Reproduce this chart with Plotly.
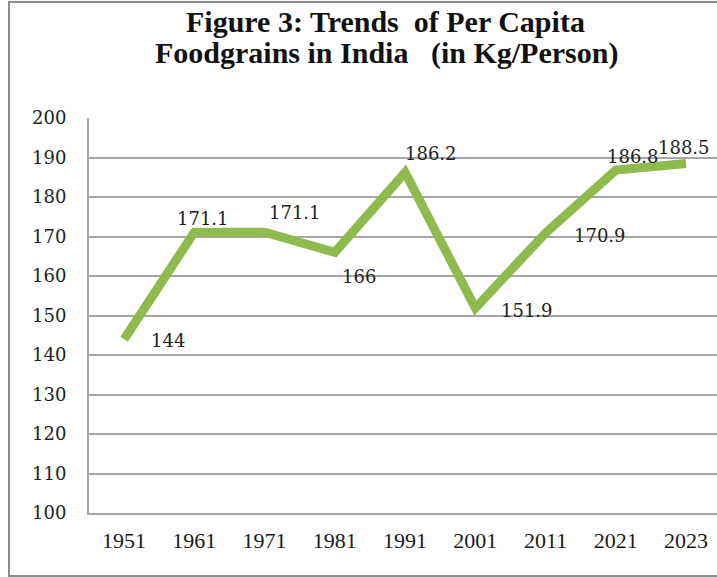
import plotly.graph_objects as go

years = ["1951", "1961", "1971", "1981", "1991", "2001", "2011", "2021", "2023"]
per_capita = [144, 171.1, 171.1, 166, 186.2, 151.9, 170.9, 186.8, 188.5]
label_text = ["144", "171.1", "171.1", "166", "186.2", "151.9", "170.9", "186.8", "188.5"]
y_ticks = [100, 110, 120, 130, 140, 150, 160, 170, 180, 190, 200]

# label placement offsets (px) – styling only
label_dx = [44, 9, 30, 24, 26, 52, 54, 17, -2]
label_dy = [-1, 14, 20, -24, 19, -2, -3, 14, 16]

xpos = list(range(len(years)))

fig = go.Figure()
fig.add_trace(go.Scatter(
    x=xpos, y=per_capita, mode="lines",
    line=dict(color="#8fba4e", width=9),
    showlegend=False, hovertext=years, hoverinfo="text+y",
))

for x, y, t, dx, dy in zip(xpos, per_capita, label_text, label_dx, label_dy):
    fig.add_annotation(x=x, y=y, xref="x", yref="y", text=t, showarrow=False,
                       xshift=dx, yshift=dy,
                       font=dict(family="DejaVu Serif", size=18, color="#222222"))

title_font = dict(family="Liberation Serif", size=30, color="#111111")
fig.add_annotation(xref="paper", yref="paper", x=(385 - 89) / 628, y=(513 - 21) / 395,
                   text="<b>Figure 3: Trends\u00a0 of Per Capita</b>", showarrow=False,
                   xanchor="center", yanchor="middle", font=title_font)
fig.add_annotation(xref="paper", yref="paper", x=(386 - 89) / 628, y=(513 - 53) / 395,
                   text="<b>Foodgrains in India\u00a0\u00a0 (in Kg/Person)</b>", showarrow=False,
                   xanchor="center", yanchor="middle", font=title_font)

fig.add_shape(type="rect", xref="paper", yref="paper",
              x0=(9 - 89) / 628, x1=1.02, y0=(513 - 576) / 395, y1=(513 - 2) / 395,
              line=dict(color="#8c8c8c", width=2), fillcolor="rgba(0,0,0,0)", layer="below")

fig.update_layout(
    width=717, height=577,
    margin=dict(l=89, r=0, t=118, b=64),
    paper_bgcolor="white", plot_bgcolor="white",
    xaxis=dict(range=[-0.5, 8.44], tickvals=xpos, ticktext=years, showgrid=False,
               showline=True, linecolor="#a6a6a6", linewidth=2, ticks="", zeroline=False,
               tickfont=dict(family="Liberation Serif", size=22, color="#1a1a1a"),
               ticklabelstandoff=7, fixedrange=True),
    yaxis=dict(range=[100, 200], tickvals=y_ticks, showgrid=True, gridcolor="#a6a6a6",
               gridwidth=1.5, showline=True, linecolor="#a6a6a6", linewidth=2, ticks="",
               zeroline=False,
               tickfont=dict(family="DejaVu Serif", size=18, color="#222222"),
               ticklabelstandoff=17, fixedrange=True),
)

fig.write_html("out.html", config={"displayModeBar": False},
               post_script="document.body.style.margin='0px';")
